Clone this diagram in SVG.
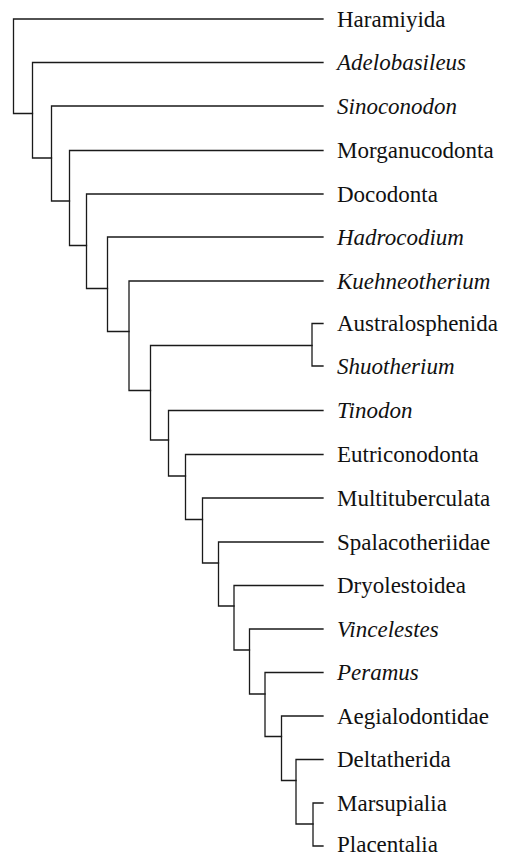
<svg xmlns="http://www.w3.org/2000/svg" width="517" height="857" viewBox="0 0 517 857">
<style>
.br{fill:none;stroke:#1a1a1a;stroke-width:1.3;stroke-linecap:square;stroke-linejoin:miter}
.lb{font-family:'Liberation Serif','DejaVu Serif',serif;font-size:23px;fill:#111}
.it{font-style:italic}
</style>
<rect width="517" height="857" fill="#fff"/>
<g id="connectors">
<path class="br" d="M323 19 H13.5 V113.5 H32.5"/>
<path class="br" d="M323 62.5 H32.5 V158 H51.5"/>
<path class="br" d="M323 106 H51.5 V201 H69.5"/>
<path class="br" d="M323 150.5 H69.5 V245.5 H86.5"/>
<path class="br" d="M323 194 H86.5 V288.5 H107.5"/>
<path class="br" d="M323 237 H107.5 V331.5 H129"/>
<path class="br" d="M323 281 H129 V390.5 H150.5"/>
<path class="br" d="M312 345.5 H150.5 V440 H168.5"/>
<path class="br" d="M323 323.5 H312 V366 H323"/>
<path class="br" d="M323 410.5 H168.5 V476 H185.5"/>
<path class="br" d="M323 454.5 H185.5 V519.5 H202.5"/>
<path class="br" d="M323 498 H202.5 V563 H218.5"/>
<path class="br" d="M323 542 H218.5 V606 H234"/>
<path class="br" d="M323 585.5 H234 V650 H249.5"/>
<path class="br" d="M323 629 H249.5 V694 H265"/>
<path class="br" d="M323 672.5 H265 V736.5 H281.5"/>
<path class="br" d="M323 716 H281.5 V780.5 H296"/>
<path class="br" d="M323 759.5 H296 V824 H313"/>
<path class="br" d="M323 803 H313 V846 H323"/>
</g>
<g id="haramiyida"><text class="lb" x="337" y="26.5">Haramiyida</text></g>
<g id="adelobasileus"><text class="lb it" x="337" y="70">Adelobasileus</text></g>
<g id="sinoconodon"><text class="lb it" x="337" y="113.5">Sinoconodon</text></g>
<g id="morganucodonta"><text class="lb" x="337" y="158">Morganucodonta</text></g>
<g id="docodonta"><text class="lb" x="337" y="201.5">Docodonta</text></g>
<g id="hadrocodium"><text class="lb it" x="337" y="244.5">Hadrocodium</text></g>
<g id="kuehneotherium"><text class="lb it" x="337" y="288.5">Kuehneotherium</text></g>
<g id="australosphenida"><text class="lb" x="337" y="331">Australosphenida</text></g>
<g id="shuotherium"><text class="lb it" x="337" y="373.5">Shuotherium</text></g>
<g id="tinodon"><text class="lb it" x="337" y="418">Tinodon</text></g>
<g id="eutriconodonta"><text class="lb" x="337" y="462">Eutriconodonta</text></g>
<g id="multituberculata"><text class="lb" x="337" y="505.5">Multituberculata</text></g>
<g id="spalacotheriidae"><text class="lb" x="337" y="549.5">Spalacotheriidae</text></g>
<g id="dryolestoidea"><text class="lb" x="337" y="593">Dryolestoidea</text></g>
<g id="vincelestes"><text class="lb it" x="337" y="636.5">Vincelestes</text></g>
<g id="peramus"><text class="lb it" x="337" y="680">Peramus</text></g>
<g id="aegialodontidae"><text class="lb" x="337" y="723.5">Aegialodontidae</text></g>
<g id="deltatherida"><text class="lb" x="337" y="767">Deltatherida</text></g>
<g id="marsupialia"><text class="lb" x="337" y="810.5">Marsupialia</text></g>
<g id="placentalia"><text class="lb" x="337" y="852">Placentalia</text></g>
</svg>
